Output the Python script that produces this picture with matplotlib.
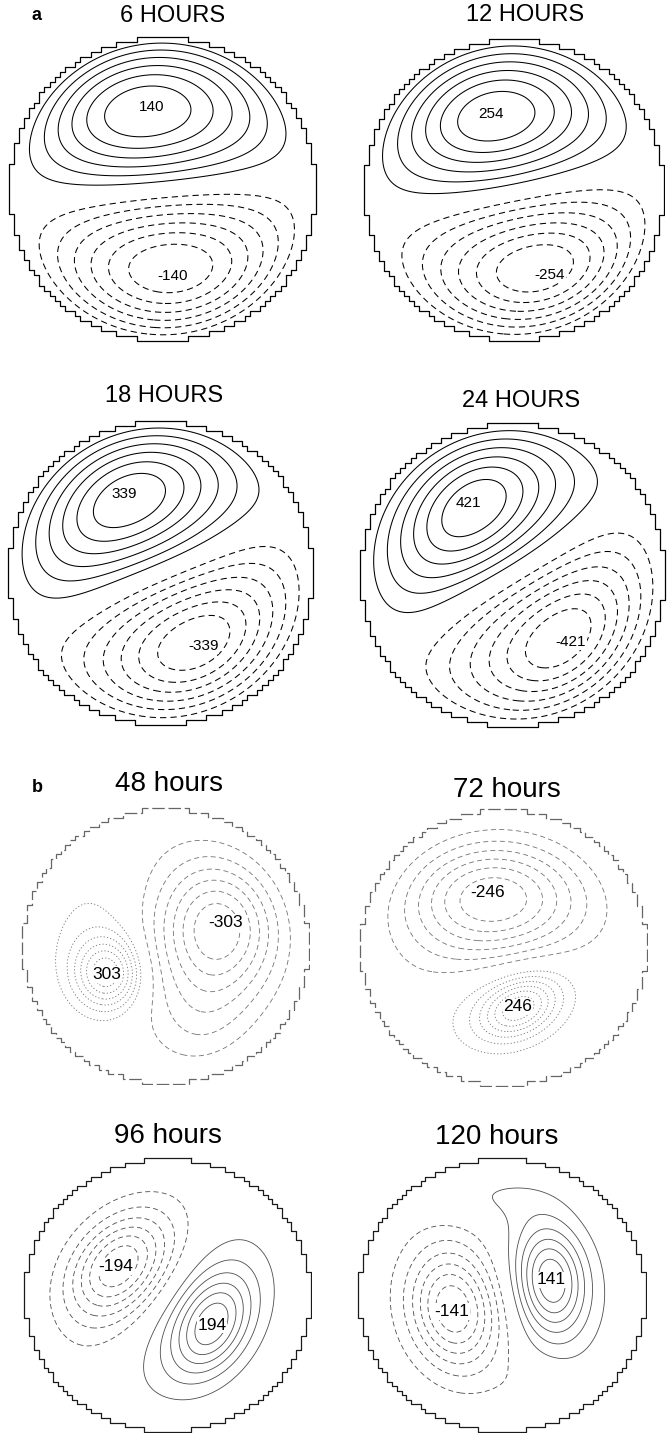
import numpy as np
import matplotlib.pyplot as plt

plt.rcParams['font.family'] = ['Liberation Sans', 'DejaVu Sans']

W, H = 667, 1433

titles = ['6 HOURS', '12 HOURS', '18 HOURS', '24 HOURS',
          '48 hours', '72 hours', '96 hours', '120 hours']
peaks = [140, 254, 339, 421, 303, 246, 194, 141]

# where the extreme values are written (unit-circle coords)
pos_label_xy = [(-0.07, 0.54), (-0.15, 0.50), (-0.24, 0.52), (-0.29, 0.47),
                (-0.41, -0.21), (0.10, -0.43), (0.31, -0.22), (0.34, 0.11)]
neg_label_xy = [(0.065, -0.57), (0.24, -0.56), (0.28, -0.48), (0.38, -0.44),
                (0.42, 0.17), (-0.11, 0.40), (-0.36, 0.21), (-0.35, -0.12)]

# lobes: (x, y, weight, length, width, tilt in deg)
blobs_6h = [(-0.10, 1.02, 1.0, 2.00, 0.80, 5), (-0.30, 0.55, 0.15, 0.40, 0.25, 0),
            (0.10, -1.02, -1.0, 2.00, 0.80, 5), (0.10, -0.58, -0.15, 0.40, 0.22, 0)]
blobs_12h = [(-0.20, 1.00, 1.0, 2.00, 0.80, 10), (-0.18, 0.52, 0.25, 0.40, 0.25, 8),
             (0.30, -1.00, -1.0, 2.00, 0.80, 10), (0.26, -0.58, -0.25, 0.40, 0.22, 10)]
blobs_18h = [(-0.15, 1.00, 1.0, 2.00, 0.80, 18), (-0.26, 0.55, 0.35, 0.40, 0.25, 35),
             (-0.85, -0.15, 0.15, 0.35, 0.35, 0),
             (0.20, -0.98, -1.0, 2.00, 0.80, 18), (0.30, -0.50, -0.35, 0.40, 0.25, 35),
             (0.85, 0.20, -0.15, 0.35, 0.35, 0)]
blobs_24h = [(-0.20, 1.00, 1.0, 2.00, 0.80, 24), (-0.30, 0.50, 0.45, 0.40, 0.25, 50),
             (-0.85, -0.30, 0.20, 0.35, 0.35, 0),
             (0.25, -0.95, -1.0, 2.00, 0.80, 24), (0.40, -0.46, -0.45, 0.40, 0.25, 50),
             (0.85, 0.30, -0.20, 0.35, 0.35, 0)]
blobs_48h = [(0.45, 0.18, -1.0, 0.30, 0.35, 0), (0.40, 0.05, -0.55, 0.60, 0.80, 0),
             (0.30, -0.70, -0.3, 0.25, 0.30, 0), (-0.43, -0.22, 1.0, 0.17, 0.19, 0),
             (-0.50, 0.15, 0.35, 0.45, 0.55, 0)]
blobs_72h = [(-0.12, 0.45, -1.0, 0.50, 0.30, 0), (-0.10, 0.30, -0.4, 0.80, 0.50, 0),
             (0.11, -0.46, 1.0, 0.20, 0.13, 30), (0.05, -0.45, 0.5, 0.45, 0.28, 25)]
blobs_96h = [(-0.38, 0.23, -1.0, 0.30, 0.20, 50), (-0.33, 0.18, -0.5, 0.75, 0.38, 50),
             (0.33, -0.24, 1.0, 0.28, 0.17, 65), (0.28, -0.12, 0.5, 0.80, 0.38, 60)]
blobs_120h = [(0.36, 0.12, 1.0, 0.28, 0.16, 95), (0.38, 0.10, 0.45, 0.60, 0.32, 100),
              (-0.37, -0.12, -1.0, 0.30, 0.20, 100), (-0.40, -0.12, -0.5, 0.65, 0.40, 100),
              (-0.25, 0.78, 0.40, 0.45, 0.15, 0), (0.30, -0.72, -0.25, 0.20, 0.15, 0)]
all_blobs = [blobs_6h, blobs_12h, blobs_18h, blobs_24h,
             blobs_48h, blobs_72h, blobs_96h, blobs_120h]

# panel boxes in pixels: left, top, width, height
boxes = [(7, 35, 311, 308), (362, 37, 303, 306), (6, 419, 309, 308), (358, 421, 309, 308),
         (21, 807, 289, 278), (359, 808, 289, 279), (23, 1157, 289, 276), (357, 1157, 290, 276)]
title_xy = [(173, 16), (525, 15), (164, 396), (521, 401),
            (169, 784), (507, 790), (168, 1136), (497, 1137)]
faint = [False, False, False, False, True, True, False, False]


def build_field(blobs, X, Y):
    Z = np.zeros_like(X)
    for x0, y0, amp, sa, sb, ang in blobs:
        t = np.deg2rad(ang)
        u = (X - x0) * np.cos(t) + (Y - y0) * np.sin(t)
        v = -(X - x0) * np.sin(t) + (Y - y0) * np.cos(t)
        Z += amp * np.exp(-0.5 * ((u / sa) ** 2 + (v / sb) ** 2))
    return Z * np.clip(1 - X ** 2 - Y ** 2, 0, None)


def stair_outline(n=60):
    edges = np.linspace(-1, 1, n + 1)
    centers = 0.5 * (edges[:-1] + edges[1:])
    right, left = [], []
    for j in range(n):
        yc = -centers[j]
        inside = np.where(np.sqrt(centers ** 2 + yc ** 2) <= 1)[0]
        if len(inside) == 0:
            continue
        ytop, ybot = edges[n - j], edges[n - j - 1]
        a, b = edges[inside[0]], edges[inside[-1] + 1]
        right += [(b, ytop), (b, ybot)]
        left += [(a, ytop), (a, ybot)]
    pts = right + left[::-1] + [right[0]]
    return np.array(pts)


fig = plt.figure(figsize=(W / 100, H / 100), dpi=100)

g = np.linspace(-1, 1, 241)
X, Y = np.meshgrid(g, g)
outline = stair_outline()

for i in range(8):
    l, t, w, h = boxes[i]
    ax = fig.add_axes([l / W, 1 - (t + h) / H, w / W, h / H])
    ax.set_xlim(-1.01, 1.01)
    ax.set_ylim(-1.01, 1.01)
    ax.axis('off')

    Z = build_field(all_blobs[i], X, Y)
    Z = np.where(Z > 0, Z / Z.max(), Z / -Z.min()) * peaks[i]
    Z = np.ma.masked_where(X ** 2 + Y ** 2 > 0.985, Z)
    step = peaks[i] / 7
    pos_levels = step * np.arange(1, 7)
    neg_levels = -pos_levels[::-1]

    if faint[i]:
        ccol, bcol, lw = '0.45', '0.4', 0.6
        pos_ls = (0, (1.5, 2.5))
        bls = (0, (10, 3))
    elif i >= 4:
        ccol, bcol, lw = '0.3', '0.1', 0.6
        pos_ls = 'solid'
        bls = 'solid'
    else:
        ccol, bcol, lw = 'black', 'black', 0.75
        pos_ls = 'solid'
        bls = 'solid'

    ax.contour(X, Y, Z, levels=pos_levels, colors=ccol, linewidths=lw, linestyles=[pos_ls])
    ax.contour(X, Y, Z, levels=neg_levels, colors=ccol, linewidths=lw,
               linestyles=[(0, (6, 4))])
    ax.plot(outline[:, 0], outline[:, 1], color=bcol, lw=0.9, ls=bls)

    fs = 11 if i < 4 else 12.5
    px, py = pos_label_xy[i]
    nx, ny = neg_label_xy[i]
    box = dict(fc='white', ec='none', pad=0.5)
    ax.text(px, py, str(peaks[i]), ha='center', va='center', fontsize=fs, bbox=box)
    ax.text(nx, ny, '-' + str(peaks[i]), ha='center', va='center', fontsize=fs, bbox=box)

    tx, ty = title_xy[i]
    fig.text(tx / W, 1 - ty / H, titles[i], ha='center', va='center',
             fontsize=17 if i < 4 else 20)

fig.text(36 / W, 1 - 16 / H, 'a', ha='center', va='center', fontsize=13, fontweight='bold')
fig.text(37 / W, 1 - 788 / H, 'b', ha='center', va='center', fontsize=13, fontweight='bold')

fig.savefig('out.png', dpi=100, facecolor='white')
